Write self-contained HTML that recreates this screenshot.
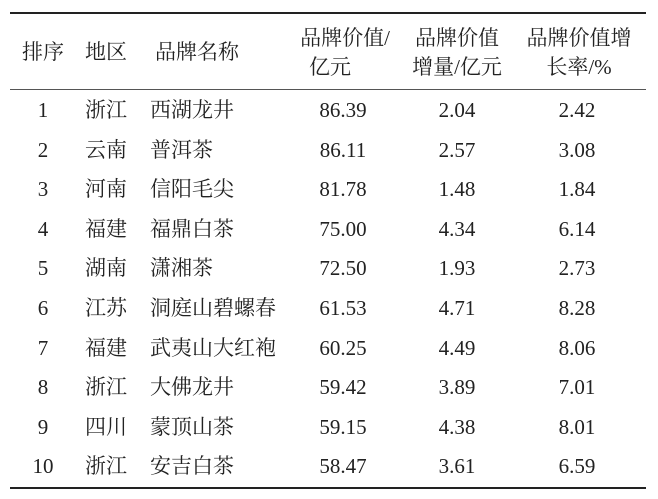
<!DOCTYPE html>
<html><head><meta charset="utf-8"><style>
body{margin:0;width:658px;height:499px;background:#fff;position:relative;overflow:hidden;font-family:"Liberation Serif","Noto Serif CJK SC",serif;color:#222;font-size:21px}
.t{position:absolute;white-space:nowrap;line-height:24px}
.c{transform:translateX(-50%)}
.l{position:absolute;left:10px;width:636px;background:#222}
</style></head><body>
<div class="l" style="top:12px;height:2px"></div>
<div class="l" style="top:89px;height:1px;background:#555"></div>
<div class="l" style="top:487px;height:2px"></div>
<div class="t" style="left:22px;top:40px">排序</div>
<div class="t" style="left:85px;top:40px">地区</div>
<div class="t" style="left:155px;top:40px">品牌名称</div>
<div class="t c" style="left:345px;top:26px">品牌价值/</div>
<div class="t c" style="left:330px;top:55px">亿元</div>
<div class="t c" style="left:457px;top:26px">品牌价值</div>
<div class="t c" style="left:457px;top:55px">增量/亿元</div>
<div class="t c" style="left:579px;top:26px">品牌价值增</div>
<div class="t c" style="left:579px;top:55px">长率/%</div>
<div id="rows"></div>
<script>
var d=[["1","浙江","西湖龙井","86.39","2.04","2.42"],["2","云南","普洱茶","86.11","2.57","3.08"],["3","河南","信阳毛尖","81.78","1.48","1.84"],["4","福建","福鼎白茶","75.00","4.34","6.14"],["5","湖南","潇湘茶","72.50","1.93","2.73"],["6","江苏","洞庭山碧螺春","61.53","4.71","8.28"],["7","福建","武夷山大红袍","60.25","4.49","8.06"],["8","浙江","大佛龙井","59.42","3.89","7.01"],["9","四川","蒙顶山茶","59.15","4.38","8.01"],["10","浙江","安吉白茶","58.47","3.61","6.59"]];
var h="";d.forEach(function(r,i){var y=98+i*39.6;
h+='<div class="t c" style="left:43px;top:'+y+'px">'+r[0]+'</div>';
h+='<div class="t" style="left:85px;top:'+y+'px">'+r[1]+'</div>';
h+='<div class="t" style="left:150px;top:'+y+'px">'+r[2]+'</div>';
h+='<div class="t c" style="left:343px;top:'+y+'px">'+r[3]+'</div>';
h+='<div class="t c" style="left:457px;top:'+y+'px">'+r[4]+'</div>';
h+='<div class="t c" style="left:577px;top:'+y+'px">'+r[5]+'</div>';});
document.getElementById("rows").innerHTML=h;
</script>
</body></html>
